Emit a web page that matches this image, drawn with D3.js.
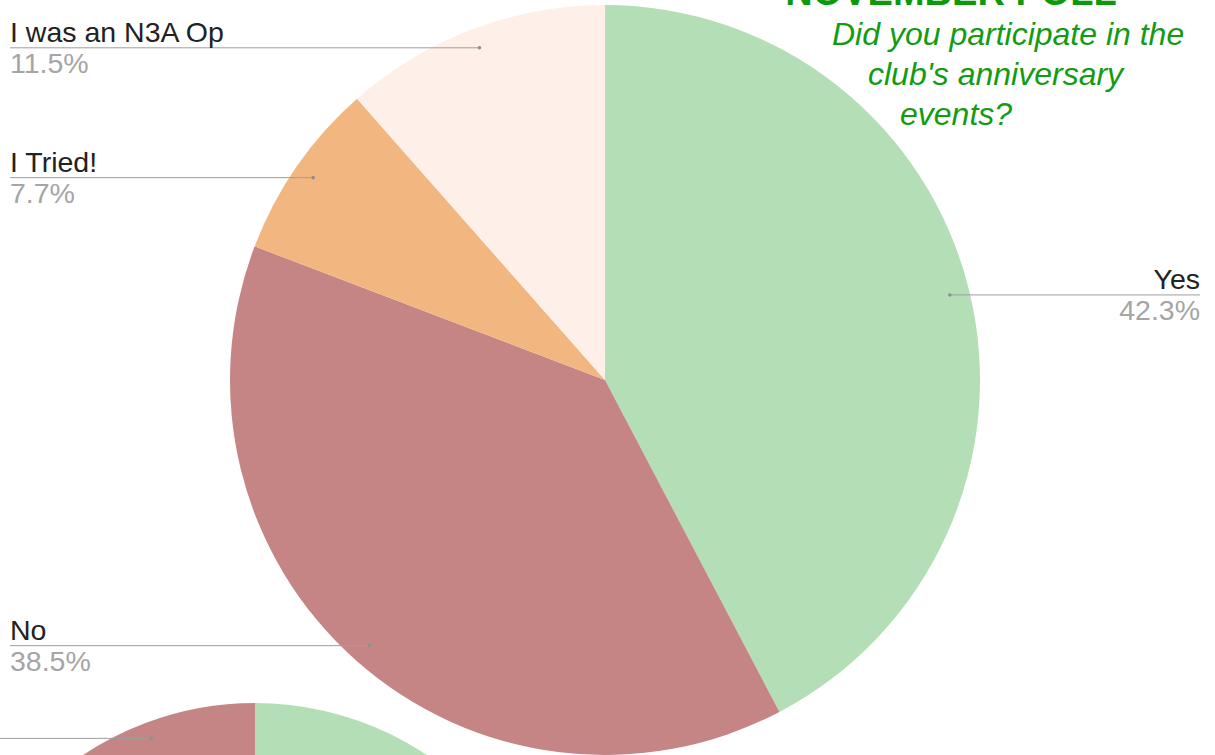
<!DOCTYPE html>
<html>
<head>
<meta charset="utf-8">
<script src="https://cdn.jsdelivr.net/npm/d3@7"></script>
<style>
  body { margin: 0; background: #fff; overflow: hidden; }
  svg { display: block; font-family: Arial, "Liberation Sans", sans-serif; }
</style>
</head>
<body>
<div id="chart"></div>
<script>
// main poll
var labels = ["Yes", "No", "I Tried!", "I was an N3A Op"];
var values = [42.3, 38.5, 7.7, 11.5];
var colors = ["#b4deb6", "#c68585", "#f2b680", "#fef0e9"];

// second poll, mostly below the page edge
var labels2 = ["Yes", "Other", "No"];
var values2 = [57.7, 30.8, 11.5];
var colors2 = ["#b4deb6", "#f2b680", "#c68585"];

var titleText = "NOVEMBER POLL";
var subtitleLines = ["Did you participate in the", "club's anniversary", "events?"];

var WIDTH = 1215, HEIGHT = 755;

var svg = d3.select("#chart").append("svg")
  .attr("width", WIDTH)
  .attr("height", HEIGHT);

var pie = d3.pie().sort(null).value(function(d) { return d; });

function drawPie(vals, cols, cx, cy, r) {
  var arc = d3.arc().innerRadius(0).outerRadius(r);
  var g = svg.append("g").attr("transform", "translate(" + cx + "," + cy + ")");
  g.selectAll("path")
    .data(pie(vals))
    .enter().append("path")
    .attr("d", arc)
    .attr("fill", function(d, i) { return cols[i]; });
  return pie(vals);
}

function anchorPoint(d, cx, cy, r) {
  var a = (d.startAngle + d.endAngle) / 2;
  return [cx + r * Math.sin(a), cy - r * Math.cos(a)];
}

//// main pie
var CX = 605, CY = 380, R = 375;
var arcs = drawPie(values, colors, CX, CY, R);

arcs.forEach(function(d, i) {
  var p = anchorPoint(d, CX, CY, R * 0.947);
  var right = p[0] > CX;
  var x0 = right ? WIDTH - 15 : 10;
  svg.append("line")
    .attr("x1", x0).attr("x2", p[0])
    .attr("y1", p[1]).attr("y2", p[1])
    .attr("stroke", "#9e9e9e")
    .attr("stroke-width", 1);
  svg.append("circle")
    .attr("cx", p[0]).attr("cy", p[1]).attr("r", 1.8)
    .attr("fill", "#8f8f8f");
  svg.append("text")
    .attr("x", x0).attr("y", p[1] - 6)
    .attr("text-anchor", right ? "end" : "start")
    .style("font-size", "28.5px")
    .style("fill", "#222")
    .text(labels[i]);
  svg.append("text")
    .attr("x", x0).attr("y", p[1] + 25)
    .attr("text-anchor", right ? "end" : "start")
    .style("font-size", "28.5px")
    .style("fill", "#a5a5a5")
    .text(values[i].toFixed(1) + "%");
});

//// second pie
var CX2 = 255, CY2 = 1013, R2 = 310;
var arcs2 = drawPie(values2, colors2, CX2, CY2, R2);
var last = arcs2[arcs2.length - 1];
var p2 = anchorPoint(last, CX2, CY2, R2 * 0.947);
svg.append("line")
  .attr("x1", 0).attr("x2", p2[0])
  .attr("y1", p2[1]).attr("y2", p2[1])
  .attr("stroke", "#9e9e9e")
  .attr("stroke-width", 1);
svg.append("circle")
  .attr("cx", p2[0]).attr("cy", p2[1]).attr("r", 1.8)
  .attr("fill", "#8f8f8f");

//// title
svg.append("text")
  .attr("x", 951).attr("y", 5)
  .attr("text-anchor", "middle")
  .style("font-size", "38px")
  .style("font-weight", "bold")
  .style("fill", "#0c9a0c")
  .text(titleText);

var subX = [832, 868, 900];
subtitleLines.forEach(function(t, i) {
  svg.append("text")
    .attr("x", subX[i]).attr("y", 45 + i * 40)
    .style("font-size", "32px")
    .style("font-style", "italic")
    .style("fill", "#139c13")
    .text(t);
});
</script>
</body>
</html>
